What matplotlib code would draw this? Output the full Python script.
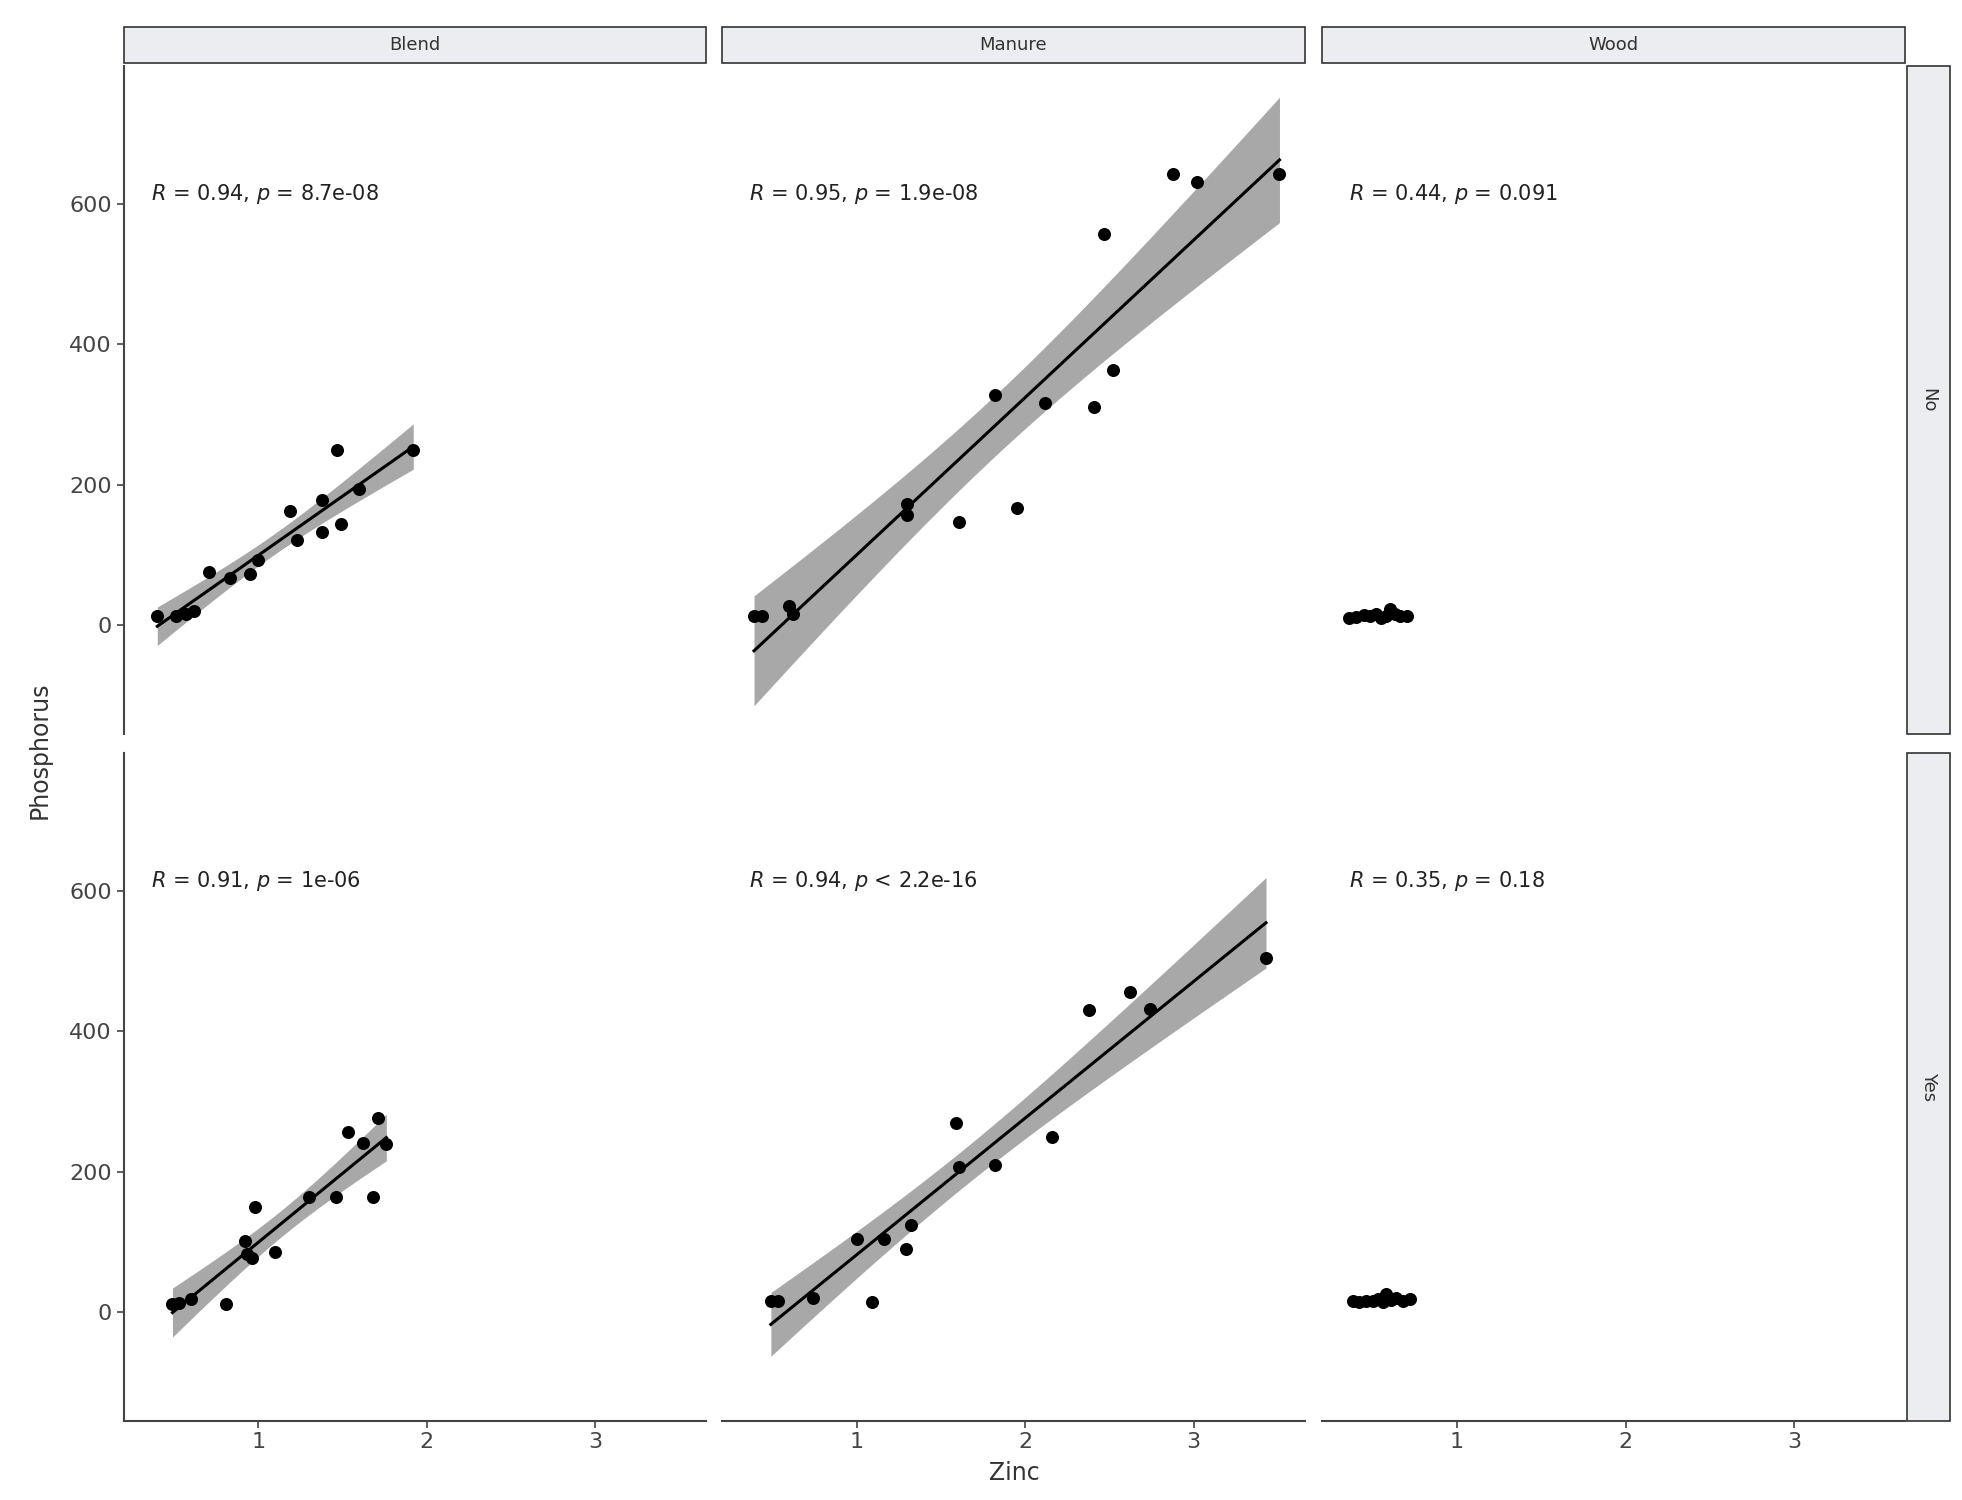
import numpy as np
import matplotlib
matplotlib.use('Agg')
import matplotlib.pyplot as plt

# zinc / phosphorus values, per facet
blend_no_x = [0.40, 0.51, 0.57, 0.62, 0.71, 0.83, 0.95, 1.00, 1.19, 1.23, 1.38, 1.38, 1.47, 1.49, 1.60, 1.92]
blend_no_y = [13, 12, 15, 20, 76, 67, 72, 92, 162, 121, 133, 178, 250, 144, 193, 249]
blend_yes_x = [0.49, 0.53, 0.60, 0.81, 0.92, 0.93, 0.96, 0.98, 1.10, 1.30, 1.46, 1.53, 1.62, 1.68, 1.71, 1.76]
blend_yes_y = [11, 13, 18, 11, 101, 83, 77, 150, 85, 164, 164, 256, 241, 164, 276, 240]
manure_no_x = [0.39, 0.44, 0.60, 0.62, 1.30, 1.30, 1.61, 1.82, 1.95, 2.12, 2.41, 2.47, 2.52, 2.88, 3.02, 3.51]
manure_no_y = [13, 13, 27, 16, 173, 157, 146, 328, 166, 317, 310, 557, 364, 643, 632, 643]
manure_yes_x = [0.49, 0.53, 0.74, 1.00, 1.09, 1.16, 1.29, 1.32, 1.59, 1.61, 1.82, 2.16, 2.38, 2.62, 2.74, 3.43]
manure_yes_y = [16, 16, 20, 104, 14, 104, 90, 124, 270, 207, 209, 250, 430, 456, 432, 504]
wood_no_x = [0.36, 0.40, 0.45, 0.48, 0.52, 0.55, 0.58, 0.60, 0.63, 0.66, 0.70]
wood_no_y = [10, 11, 14, 12, 16, 10, 13, 22, 15, 12, 13]
wood_yes_x = [0.38, 0.42, 0.46, 0.50, 0.53, 0.56, 0.58, 0.61, 0.64, 0.68, 0.72]
wood_yes_y = [15, 14, 16, 15, 18, 14, 26, 17, 20, 16, 18]

cols = ['Blend', 'Manure', 'Wood']
rows = ['No', 'Yes']
data = {('No', 'Blend'): (blend_no_x, blend_no_y), ('Yes', 'Blend'): (blend_yes_x, blend_yes_y),
        ('No', 'Manure'): (manure_no_x, manure_no_y), ('Yes', 'Manure'): (manure_yes_x, manure_yes_y),
        ('No', 'Wood'): (wood_no_x, wood_no_y), ('Yes', 'Wood'): (wood_yes_x, wood_yes_y)}
labels = {('No', 'Blend'): ('0.94', '= 8.7e-08'), ('No', 'Manure'): ('0.95', '= 1.9e-08'),
          ('No', 'Wood'): ('0.44', '= 0.091'), ('Yes', 'Blend'): ('0.91', '= 1e-06'),
          ('Yes', 'Manure'): ('0.94', '< 2.2e-16'), ('Yes', 'Wood'): ('0.35', '= 0.18')}

fig = plt.figure(figsize=(19.62, 15), dpi=100)
lefts = [0.063, 0.368, 0.674]
w = 0.297
bottoms = [0.511, 0.053]
h = 0.445
strip_col = '#ECEDF0'

for ri, r in enumerate(rows):
    for ci, c in enumerate(cols):
        ax = fig.add_axes([lefts[ci], bottoms[ri], w, h])
        x = np.array(data[(r, c)][0])
        y = np.array(data[(r, c)][1])
        # linear fit with 95% confidence band
        b, a = np.polyfit(x, y, 1)
        xs = np.linspace(x.min(), x.max(), 100)
        ys = a + b * xs
        n = len(x)
        resid = y - (a + b * x)
        s = np.sqrt(np.sum(resid ** 2) / (n - 2))
        se = s * np.sqrt(1 / n + (xs - x.mean()) ** 2 / np.sum((x - x.mean()) ** 2))
        t = 2.14
        if c != 'Wood':
            ax.fill_between(xs, ys - t * se, ys + t * se, color='#999999', alpha=0.85, lw=0)
            ax.plot(xs, ys, color='black', lw=2.2)
        ax.scatter(x, y, s=70, color='black', zorder=3)
        rv, pv = labels[(r, c)]
        ax.text(0.36, 615, r'$\it{R}$ = ' + rv + r', $\it{p}$ ' + pv, fontsize=15, va='center', color='#222222')
        ax.set_xlim(0.2, 3.66)
        ax.set_ylim(-155, 797)
        ax.set_xticks([1, 2, 3])
        ax.set_yticks([0, 200, 400, 600])
        for sp in ['top', 'right']:
            ax.spines[sp].set_visible(False)
        ax.spines['left'].set_visible(ci == 0)
        ax.spines['bottom'].set_visible(ri == 1)
        for sp in ['left', 'bottom']:
            ax.spines[sp].set_color('#444444')
            ax.spines[sp].set_linewidth(1.5)
        ax.tick_params(labelsize=16, colors='#444444', labelcolor='#444444', length=5, width=1.2)
        if ci != 0:
            ax.tick_params(axis='y', left=False, labelleft=False)
        if ri == 0:
            ax.tick_params(axis='x', bottom=False, labelbottom=False)
        # strips
        if ri == 0:
            fig.patches.append(plt.Rectangle((lefts[ci], 0.958), w, 0.024, transform=fig.transFigure,
                                             facecolor=strip_col, edgecolor='#333333', lw=1.2))
            fig.text(lefts[ci] + w / 2, 0.970, c, ha='center', va='center', fontsize=13, color='#333333')
        if ci == 2:
            fig.patches.append(plt.Rectangle((0.972, bottoms[ri]), 0.022, h, transform=fig.transFigure,
                                             facecolor=strip_col, edgecolor='#333333', lw=1.2))
            fig.text(0.983, bottoms[ri] + h / 2, r, ha='center', va='center', rotation=-90,
                     fontsize=13, color='#333333')

fig.text(0.517, 0.018, 'Zinc', ha='center', va='center', fontsize=17, color='#333333')
fig.text(0.02, 0.5, 'Phosphorus', ha='center', va='center', rotation=90, fontsize=17, color='#333333')

fig.savefig('out.png', dpi=100)
